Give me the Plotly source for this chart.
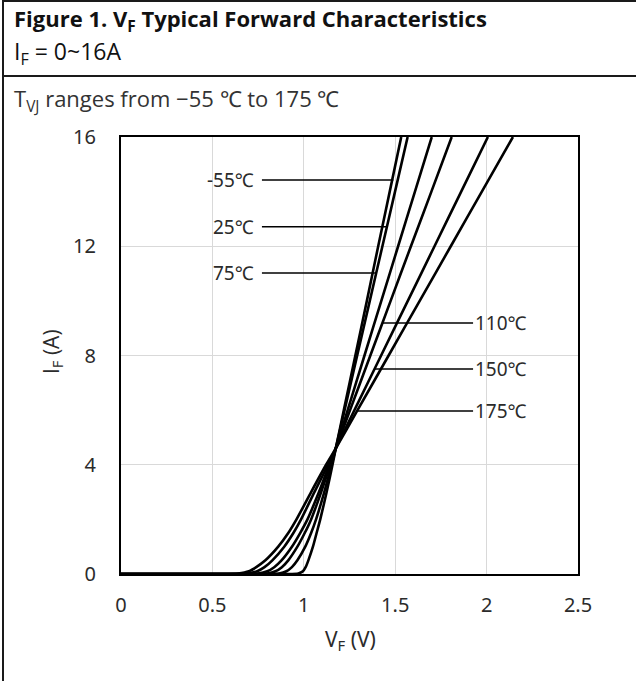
import plotly.graph_objects as go

# ---------------- data ----------------
temps = ["-55℃", "25℃", "75℃", "110℃", "150℃", "175℃"]

# forward current points (A), shared by all curves
i_f = [0, 0, 0.02, 0.1, 0.25, 0.5, 1, 1.5, 2, 3, 4, 4.6, 6, 8, 10, 12, 14, 16]

# forward voltage (V) for each junction temperature at the currents above
vf_m55 = [0, 0.90, 0.97, 0.995, 1.01, 1.025, 1.05, 1.07, 1.09, 1.125, 1.157, 1.175, 1.219, 1.282, 1.345, 1.407, 1.470, 1.533]
vf_25  = [0, 0.78, 0.865, 0.905, 0.935, 0.965, 1.008, 1.04, 1.067, 1.112, 1.152, 1.175, 1.223, 1.292, 1.361, 1.430, 1.499, 1.568]
vf_75  = [0, 0.72, 0.80, 0.845, 0.88, 0.915, 0.965, 1.005, 1.04, 1.095, 1.145, 1.175, 1.240, 1.332, 1.424, 1.516, 1.608, 1.700]
vf_110 = [0, 0.66, 0.75, 0.80, 0.838, 0.878, 0.935, 0.98, 1.02, 1.083, 1.14, 1.175, 1.253, 1.364, 1.475, 1.586, 1.698, 1.809]
vf_150 = [0, 0.60, 0.69, 0.745, 0.785, 0.828, 0.893, 0.943, 0.985, 1.058, 1.133, 1.175, 1.277, 1.423, 1.569, 1.715, 1.861, 2.007]
vf_175 = [0, 0.55, 0.64, 0.70, 0.74, 0.79, 0.86, 0.915, 0.96, 1.04, 1.122, 1.175, 1.294, 1.464, 1.634, 1.804, 1.974, 2.144]
curves = [vf_m55, vf_25, vf_75, vf_110, vf_150, vf_175]

x_ticks = [0, 0.5, 1, 1.5, 2, 2.5]
x_tick_text = ["0", "0.5", "1", "1.5", "2", "2.5"]
y_ticks = [0, 4, 8, 12, 16]

# leader lines for the labels: (label, current level, leader start V, leader end V, side)
leaders = [
    ("-55℃", 14.43, 0.771, 1.49, "left"),
    ("25℃", 12.71, 0.771, 1.45, "left"),
    ("75℃", 11.02, 0.771, 1.40, "left"),
    ("110℃", 9.19, 1.43, 1.926, "right"),
    ("150℃", 7.51, 1.387, 1.926, "right"),
    ("175℃", 5.97, 1.291, 1.926, "right"),
]

title_text = "Figure 1. V<sub>F</sub> Typical Forward Characteristics"
range_text = "I<sub>F</sub> = 0~16A"
cond_text = "T<sub>VJ</sub> ranges from −55 ℃ to 175 ℃"

# ---------------- figure ----------------
W, H = 636, 681
L, R, T, B = 121, 578, 137, 574  # plot area in pixels


def px(x):
    return (x - L) / (R - L)


def py(y):
    return (B - y) / (B - T)


FONT = "Noto Sans"
HFONT = "Open Sans"
TXT = "#2b2b2b"

fig = go.Figure()
for name, v in zip(temps, curves):
    fig.add_trace(go.Scatter(x=v, y=i_f, mode="lines", name=name,
                             line=dict(color="black", width=2.6, shape="spline", smoothing=0.6),
                             showlegend=False, hoverinfo="skip"))

shapes = []
annotations = []
for lab, yv, x0, x1, side in leaders:
    shapes.append(dict(type="line", xref="x", yref="y", x0=x0, x1=x1, y0=yv, y1=yv,
                       line=dict(color="black", width=1.5)))
    if side == "left":
        annotations.append(dict(x=x0 - 0.035, y=yv, xref="x", yref="y", text=lab,
                                showarrow=False, xanchor="right", yanchor="middle",
                                font=dict(family=FONT, size=19, color=TXT)))
    else:
        annotations.append(dict(x=x1 + 0.002, y=yv, xref="x", yref="y", text=lab,
                                showarrow=False, xanchor="left", yanchor="middle",
                                font=dict(family=FONT, size=19, color=TXT)))

# header frame
frame = dict(color="#1a1a1a", width=2)
shapes += [
    dict(type="line", xref="paper", yref="paper", x0=px(3), x1=px(640), y0=py(1), y1=py(1), line=frame),
    dict(type="line", xref="paper", yref="paper", x0=px(3), x1=px(640), y0=py(76), y1=py(76), line=frame),
    dict(type="line", xref="paper", yref="paper", x0=px(3), x1=px(3), y0=py(0), y1=py(690), line=frame),
]

annotations += [
    dict(x=px(12), y=py(20), xref="paper", yref="paper", text="<b>" + title_text + "</b>",
         showarrow=False, xanchor="left", yanchor="middle",
         font=dict(family=HFONT, size=22, color="#111")),
    dict(x=px(12), y=py(52), xref="paper", yref="paper", text=range_text,
         showarrow=False, xanchor="left", yanchor="middle",
         font=dict(family=HFONT, size=23, color="#111")),
    dict(x=px(12), y=py(100), xref="paper", yref="paper", text=cond_text,
         showarrow=False, xanchor="left", yanchor="middle",
         font=dict(family=HFONT, size=22, color="#333")),
    dict(x=px(350), y=py(640), xref="paper", yref="paper", text="V<sub>F</sub> (V)",
         showarrow=False, xanchor="center", yanchor="middle",
         font=dict(family=FONT, size=21, color=TXT)),
    dict(x=px(52), y=py(352), xref="paper", yref="paper", text="I<sub>F</sub> (A)",
         showarrow=False, xanchor="center", yanchor="middle", textangle=-90,
         font=dict(family=HFONT, size=21, color=TXT)),
]

fig.update_layout(
    width=W, height=H, autosize=False,
    margin=dict(l=L, r=W - R, t=T, b=H - B, pad=0),
    paper_bgcolor="white", plot_bgcolor="white",
    shapes=shapes, annotations=annotations,
    font=dict(family=FONT, size=20, color=TXT),
)
fig.update_xaxes(range=[0, 2.5], tickvals=x_ticks, ticktext=x_tick_text,
                 showgrid=True, gridcolor="#d9d9d9", gridwidth=1,
                 showline=True, linecolor="black", linewidth=2, mirror=True,
                 ticks="", ticklabelstandoff=12, zeroline=False,
                 tickfont=dict(family=FONT, size=20, color=TXT))
fig.update_yaxes(range=[0, 16], tickvals=y_ticks,
                 showgrid=True, gridcolor="#d9d9d9", gridwidth=1,
                 showline=True, linecolor="black", linewidth=2, mirror=True,
                 ticks="", ticklabelstandoff=19, zeroline=False,
                 tickfont=dict(family=FONT, size=20, color=TXT))

fig.write_html("out.html", config={"displayModeBar": False},
               post_script="document.body.style.margin='0px';document.body.style.padding='0px';")
